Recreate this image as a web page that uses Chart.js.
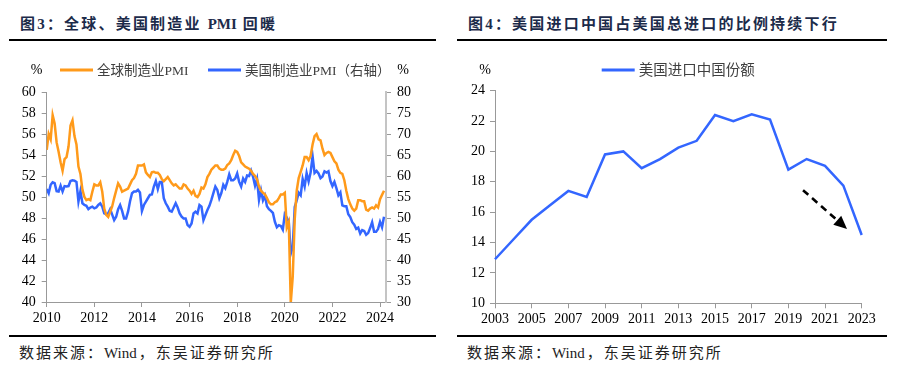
<!DOCTYPE html>
<html>
<head>
<meta charset="utf-8">
<script src="https://cdn.jsdelivr.net/npm/chart.js@4.4.1/dist/chart.umd.min.js"></script>
<style>
body{margin:0;background:#fff;width:907px;height:370px;position:relative;overflow:hidden;font-family:"Liberation Serif","Noto Sans CJK SC",serif;}
.title{position:absolute;top:15px;font-size:15px;font-weight:bold;color:#1c2b4a;letter-spacing:2.2px;white-space:nowrap;line-height:18px;}
.rule{position:absolute;height:2px;background:#000;}
.src{position:absolute;top:344px;font-size:15px;color:#222;letter-spacing:2px;line-height:18px;white-space:nowrap;}
.lat{letter-spacing:0;}
canvas{position:absolute;top:45px;}
</style>
</head>
<body>
<div class="title" style="left:20px">图3：全球、美国制造业 <span class="lat">PMI</span> 回暖</div>
<div class="rule" style="left:9px;width:427px;top:39px"></div>
<div class="title" style="left:468px">图4：美国进口中国占美国总进口的比例持续下行</div>
<div class="rule" style="left:457px;width:430px;top:39px"></div>

<canvas id="pmiChart" width="450" height="285" style="left:0"></canvas>
<canvas id="shareChart" width="457" height="285" style="left:450px"></canvas>

<div class="rule" style="left:9px;width:427px;top:335px"></div>
<div class="rule" style="left:457px;width:430px;top:335px"></div>
<div class="src" style="left:19px">数据来源：<span class="lat">Win</span>d，东吴证券研究所</div>
<div class="src" style="left:467px">数据来源：<span class="lat">Win</span>d，东吴证券研究所</div>

<script>
// monthly series, Jan 2010 .. Mar 2024
var startYear = 2010;
var globalPmi = [
  54.5, 56.0, 55.5, 57.8, 57.0, 55.2, 54.3, 53.3, 52.5, 53.6, 53.8, 54.8,
  56.8, 57.3, 55.8, 55.0, 52.9, 52.2, 50.7, 50.0, 49.7, 49.8, 49.7, 50.5,
  51.2, 51.1, 51.1, 51.4, 50.5, 48.9, 48.3, 48.1, 48.6, 49.1, 49.9, 50.6,
  51.3, 51.0, 50.5, 50.6, 50.7, 50.8, 51.2, 51.6, 51.8, 52.2, 53.0, 53.0,
  53.0, 53.1, 52.35, 52.1, 51.9, 52.35, 52.4, 52.3, 52.3, 52.1, 51.7, 51.5,
  51.7, 51.9, 51.6, 51.3, 51.1, 51.2, 51.0, 50.8, 50.8, 51.2, 51.1, 50.8,
  50.6, 50.3, 50.6, 50.1, 50.0, 50.3, 50.9, 50.8, 51.2, 51.9, 52.2, 52.6,
  52.8, 53.0, 53.0, 52.7, 52.6, 52.6, 52.7, 53.05, 53.2, 53.5, 54.0, 54.4,
  54.3, 53.9, 53.3, 53.1, 52.9, 52.8, 52.7, 52.5, 52.2, 52.0, 51.7, 51.0,
  50.6, 50.4, 50.25, 49.9, 49.5, 49.3, 49.3, 49.5, 49.6, 49.9, 50.25, 50.25,
  50.4, 47.1, 47.6, 39.9, 42.4, 47.9, 50.6, 51.8, 52.4, 53.0, 53.8, 53.8,
  53.5, 53.9, 55.0, 55.8, 56.0, 55.5, 55.4, 54.6, 54.0, 54.2, 54.3, 54.2,
  53.8, 53.4, 53.2, 52.6, 52.3, 52.2, 51.6, 50.6, 49.8, 49.3, 48.9, 48.7,
  48.9, 49.7, 49.7, 49.6, 49.6, 48.8, 48.7, 48.9, 49.0, 48.9, 49.2, 49.0,
  49.8, 50.2, 50.6
];
var usPmi = [
  56.9, 55.9, 57.9, 58.5, 58.3, 56.4, 56.3, 57.7, 56.3, 57.6, 57.5, 57.6,
  58.8, 59.0, 58.9, 58.6, 53.9, 56.4, 53.5, 53.1, 52.9, 52.1, 52.5, 52.7,
  52.3, 52.5, 53.1, 53.5, 52.7, 51.1, 50.9, 51.1, 52.1, 50.8, 49.5, 50.3,
  52.1, 53.1, 51.7, 49.9, 49.9, 51.5, 54.0, 55.9, 56.3, 56.3, 56.7, 56.1,
  51.7, 53.1, 53.9, 54.7, 55.5, 55.6, 57.5, 58.8, 56.9, 58.6, 58.6, 54.7,
  53.5, 52.7, 51.7, 51.5, 52.5, 53.5, 52.5, 51.1, 50.3, 49.9, 49.9, 48.3,
  47.9, 48.7, 51.1, 51.5, 51.1, 53.1, 52.7, 49.5, 50.7, 51.9, 52.9, 54.3,
  55.9, 57.5, 56.7, 54.7, 55.9, 57.9, 57.1, 58.6, 60.4, 59.0, 59.0, 59.4,
  60.6, 58.6, 57.5, 59.4, 58.6, 60.1, 60.0, 61.3, 59.8, 57.7, 59.3, 54.3,
  56.6, 54.2, 55.3, 52.8, 52.1, 51.7, 51.2, 49.1, 47.8, 48.3, 48.1, 47.2,
  50.9, 50.1, 49.1, 41.5, 43.1, 52.6, 54.2, 56.0, 55.4, 59.3, 57.5, 60.7,
  58.7, 60.8, 64.7, 60.7, 61.2, 60.6, 59.5, 59.9, 61.1, 60.8, 61.1, 58.8,
  57.6, 58.6, 57.1, 55.4, 56.1, 53.0, 52.8, 52.8, 50.9, 50.2, 49.0, 48.4,
  47.4, 47.7, 46.3, 47.1, 46.9, 46.0, 46.4, 47.6, 49.0, 46.7, 46.7, 47.4,
  49.1, 47.8, 50.3
];

// yearly share of China in US imports
var shareYears = ['2003','2004','2005','2006','2007','2008','2009','2010','2011','2012','2013',
                  '2014','2015','2016','2017','2018','2019','2020','2021','2022','2023'];
var chinaShare = [12.9, 14.2, 15.5, 16.45, 17.4, 17.0, 19.8, 20.0, 18.9, 19.5, 20.25,
                  20.7, 22.4, 22.0, 22.45, 22.1, 18.8, 19.5, 19.05, 17.75, 14.5];
// trend arrow, in (category index, value)
var arrowFrom = [16.8, 17.45];
var arrowTo = [19.2, 14.9];

var ORANGE = '#FF9A1A';
var BLUE = '#3366FF';
var tickFont = { family: '"Liberation Serif", "Noto Sans CJK SC"', size: 14 };

// "%" unit marks and a hand-placed legend above the plot
var headerPlugin = {
  id: 'header',
  afterDraw: function(chart, args, opts) {
    var ctx = chart.ctx;
    ctx.save();
    ctx.textBaseline = 'middle';
    ctx.textAlign = 'center';
    ctx.fillStyle = '#000';
    ctx.font = '14px "Liberation Serif"';
    opts.units.forEach(function(ux) { ctx.fillText('%', ux, opts.y); });
    opts.items.forEach(function(x, i) {
      var ds = chart.data.datasets[i];
      ctx.strokeStyle = ds.borderColor;
      ctx.lineWidth = 3;
      ctx.beginPath();
      ctx.moveTo(x, opts.y);
      ctx.lineTo(x + 33, opts.y);
      ctx.stroke();
      ctx.fillStyle = '#404040';
      ctx.textAlign = 'left';
      ctx.font = opts.font;
      ctx.fillText(ds.label, x + 37, opts.y + 1);
    });
    ctx.restore();
  }
};

var arrowPlugin = {
  id: 'trendArrow',
  afterDatasetsDraw: function(chart, args, opts) {
    var ctx = chart.ctx, xs = chart.scales.x, ys = chart.scales.y;
    var x1 = xs.getPixelForValue(opts.from[0]), y1 = ys.getPixelForValue(opts.from[1]);
    var x2 = xs.getPixelForValue(opts.to[0]), y2 = ys.getPixelForValue(opts.to[1]);
    var a = Math.atan2(y2 - y1, x2 - x1), head = 13, half = 6;
    ctx.save();
    ctx.strokeStyle = '#000';
    ctx.fillStyle = '#000';
    ctx.lineWidth = 2.6;
    ctx.setLineDash([7, 5]);
    ctx.beginPath();
    ctx.moveTo(x1, y1);
    ctx.lineTo(x2 - head * Math.cos(a), y2 - head * Math.sin(a));
    ctx.stroke();
    ctx.setLineDash([]);
    var bx = x2 - head * Math.cos(a), by = y2 - head * Math.sin(a);
    ctx.beginPath();
    ctx.moveTo(x2, y2);
    ctx.lineTo(bx + half * Math.sin(a), by - half * Math.cos(a));
    ctx.lineTo(bx - half * Math.sin(a), by + half * Math.cos(a));
    ctx.closePath();
    ctx.fill();
    ctx.restore();
  }
};

function axisGrid(color) {
  return { display: true, drawOnChartArea: false, drawTicks: true, tickLength: 5, color: color };
}

new Chart(document.getElementById('pmiChart'), {
  type: 'line',
  data: {
    datasets: [{
      label: '全球制造业PMI',
      data: globalPmi.map(function(v, i) { return { x: startYear + i / 12, y: v }; }),
      borderColor: ORANGE,
      borderWidth: 2.5,
      pointRadius: 0,
      yAxisID: 'y'
    }, {
      label: '美国制造业PMI（右轴）',
      data: usPmi.map(function(v, i) { return { x: startYear + i / 12, y: v }; }),
      borderColor: BLUE,
      borderWidth: 2.5,
      pointRadius: 0,
      yAxisID: 'y1'
    }]
  },
  options: {
    responsive: false,
    animation: false,
    devicePixelRatio: 1,
    layout: { padding: { top: 47, left: 0, right: 0, bottom: 0 } },
    plugins: {
      legend: { display: false },
      tooltip: { enabled: false },
      header: { y: 25, units: [36.7, 403], items: [60, 208], font: '13.5px "Liberation Serif", "Noto Sans CJK SC"' }
    },
    scales: {
      x: {
        type: 'linear',
        min: 2010,
        max: 2024.25,
        afterFit: function(s) { s.height = 28; },
        border: { color: '#999', width: 1 },
        grid: axisGrid('#999'),
        ticks: {
          stepSize: 2,
          includeBounds: false,
          font: tickFont,
          color: '#000',
          padding: 3,
          maxRotation: 0,
          callback: function(v) { return String(v); }
        }
      },
      y: {
        position: 'left',
        min: 40,
        max: 60,
        afterFit: function(s) { s.width = 46.7; },
        border: { color: '#999', width: 1 },
        grid: axisGrid('#999'),
        ticks: { stepSize: 2, font: tickFont, color: '#000', padding: 6 }
      },
      y1: {
        position: 'right',
        min: 30,
        max: 80,
        afterFit: function(s) { s.width = 64; },
        border: { color: '#c4c4c4', width: 2 },
        grid: axisGrid('#999'),
        ticks: { stepSize: 5, font: tickFont, color: '#000', padding: 6 }
      }
    }
  },
  plugins: [headerPlugin]
});

new Chart(document.getElementById('shareChart'), {
  type: 'line',
  data: {
    labels: shareYears,
    datasets: [{
      label: '美国进口中国份额',
      data: chinaShare,
      borderColor: BLUE,
      borderWidth: 2.5,
      pointRadius: 0
    }]
  },
  options: {
    responsive: false,
    animation: false,
    devicePixelRatio: 1,
    layout: { padding: { top: 45.7, left: 0, right: 45.3, bottom: 0 } },
    plugins: {
      legend: { display: false },
      tooltip: { enabled: false },
      header: { y: 25, units: [35], items: [151.7], font: '14.5px "Liberation Serif", "Noto Sans CJK SC"' },
      trendArrow: { from: arrowFrom, to: arrowTo }
    },
    scales: {
      x: {
        afterFit: function(s) { s.height = 26.7; },
        border: { color: '#999', width: 1 },
        grid: axisGrid('#999'),
        ticks: {
          autoSkip: false,
          maxRotation: 0,
          font: tickFont,
          color: '#000',
          padding: 3,
          callback: function(v, i) { return i % 2 === 0 ? shareYears[i] : null; }
        }
      },
      y: {
        min: 10,
        max: 24,
        afterFit: function(s) { s.width = 45; },
        border: { color: '#999', width: 1 },
        grid: axisGrid('#999'),
        ticks: { stepSize: 2, font: tickFont, color: '#000', padding: 5 }
      }
    }
  },
  plugins: [headerPlugin, arrowPlugin]
});
</script>
</body>
</html>
